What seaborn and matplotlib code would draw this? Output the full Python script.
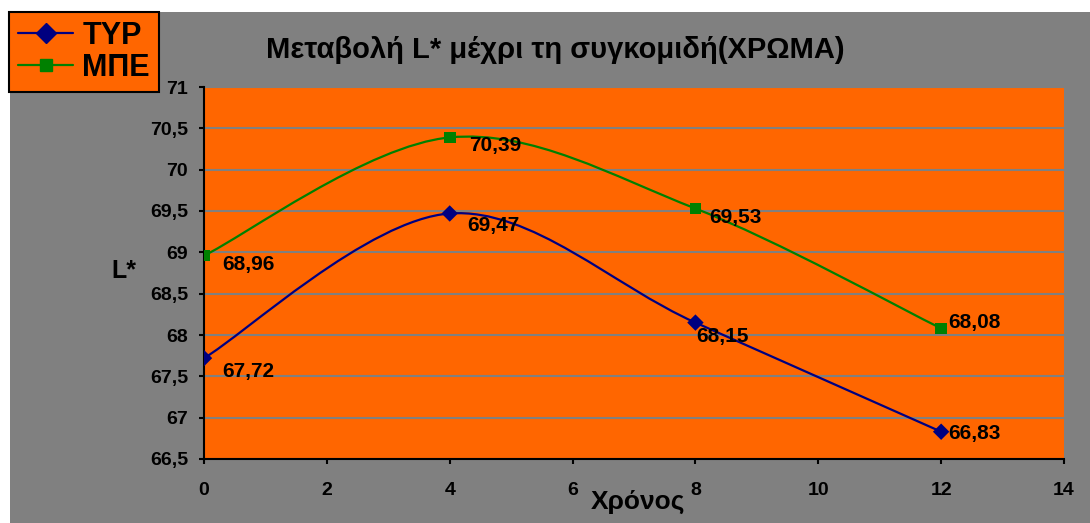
import numpy as np
import pandas as pd
import seaborn as sns
import matplotlib
matplotlib.use("Agg")
import matplotlib.pyplot as plt
from matplotlib.path import Path
from matplotlib.patches import PathPatch, Rectangle
from matplotlib.lines import Line2D

# Data
months = [0, 4, 8, 12]
typ_values = [67.72, 69.47, 68.15, 66.83]
mpe_values = [68.96, 70.39, 69.53, 68.08]
series_names = ["ΤΥΡ", "ΜΠΕ"]
x_ticks = [0, 2, 4, 6, 8, 10, 12, 14]
y_ticks = [66.5, 67, 67.5, 68, 68.5, 69, 69.5, 70, 70.5, 71]
title = "Μεταβολή L* μέχρι τη συγκομιδή(ΧΡΩΜΑ)"
x_label = "Χρόνος"
y_label = "L*"

# Styling
ORANGE = "#FF6600"
GRAY = "#808080"
NAVY = "#000080"
GREEN = "#008000"
FONT = ["Liberation Sans", "DejaVu Sans"]

sns.set_theme(style="white")
plt.rcParams["font.family"] = FONT
plt.rcParams["font.weight"] = "bold"
plt.rcParams["text.color"] = "black"

W, H = 1090, 523
fig = plt.figure(figsize=(W / 100, H / 100), dpi=100, facecolor="white")
fig.patches.append(Rectangle((10 / W, 0), 1 - 10 / W, 1 - 12 / H,
                             transform=fig.transFigure, facecolor=GRAY,
                             edgecolor="none", zorder=-10))

ax = fig.add_axes([204 / W, 1 - 459 / H, (1064 - 204) / W, (459 - 87) / H])
ax.set_facecolor(ORANGE)


def smooth_path(xs, ys):
    """Cubic Bezier path through the points (Catmull-Rom style tangents)."""
    pts = np.column_stack([xs, ys]).astype(float)
    ext = np.vstack([pts[0], pts, pts[-1]])
    verts = [tuple(pts[0])]
    codes = [Path.MOVETO]
    for i in range(len(pts) - 1):
        p0, p1, p2, p3 = ext[i], ext[i + 1], ext[i + 2], ext[i + 3]
        c1 = p1 + (p2 - p0) / 6.0
        c2 = p2 - (p3 - p1) / 6.0
        verts += [tuple(c1), tuple(c2), tuple(p2)]
        codes += [Path.CURVE4] * 3
    return Path(verts, codes)


df = pd.DataFrame({
    "month": months * 2,
    "L": typ_values + mpe_values,
    "series": [series_names[0]] * len(months) + [series_names[1]] * len(months),
})

colors = {series_names[0]: NAVY, series_names[1]: GREEN}
markers = {series_names[0]: "D", series_names[1]: "s"}

for name, vals in zip(series_names, [typ_values, mpe_values]):
    ax.add_patch(PathPatch(smooth_path(months, vals), facecolor="none",
                           edgecolor=colors[name], lw=1.6, zorder=3))

sns.scatterplot(data=df, x="month", y="L", hue="series", style="series",
                palette=colors, markers=markers, s=70, edgecolor="none",
                legend=False, ax=ax, zorder=4)

# Value labels (offsets in pixels from the marker)
typ_offsets = [(18, -13), (18, -12), (1, -14), (7, -2)]
mpe_offsets = [(18, -9), (19, -8), (14, -9), (7, 6)]
for vals, offs in [(typ_values, typ_offsets), (mpe_values, mpe_offsets)]:
    for xv, yv, (dx, dy) in zip(months, vals, offs):
        ax.annotate(f"{yv:.2f}".replace(".", ","), (xv, yv),
                    xytext=(dx, dy), textcoords="offset pixels",
                    ha="left", va="center", fontsize=15, fontweight="bold",
                    color="black", zorder=5)

ax.set_xlim(0, 14)
ax.set_ylim(66.5, 71)
ax.set_xticks(x_ticks)
ax.set_yticks(y_ticks)
ax.set_yticklabels([f"{v:g}".replace(".", ",") for v in y_ticks])
ax.set_xticklabels([str(v) for v in x_ticks])
ax.grid(axis="y", color=GRAY, lw=1.5)
ax.set_axisbelow(True)
for side in ["top", "right"]:
    ax.spines[side].set_visible(False)
for side in ["left", "bottom"]:
    ax.spines[side].set_color("black")
    ax.spines[side].set_linewidth(1.5)
ax.tick_params(axis="both", which="major", direction="out", length=3.6,
               width=1.5, color="black", labelsize=14, labelcolor="black",
               left=True, bottom=True)
ax.tick_params(axis="x", pad=13)
ax.tick_params(axis="y", pad=8)
for lbl in ax.get_xticklabels() + ax.get_yticklabels():
    lbl.set_fontweight("bold")
ax.set_xlabel("")
ax.set_ylabel("")

fig.text(638 / W, 1 - 502 / H, x_label, ha="center", va="center",
         fontsize=19, fontweight="bold", color="black")
fig.text(124 / W, 1 - 271 / H, y_label, ha="center", va="center",
         fontsize=18, fontweight="bold", color="black")
fig.text(555 / W, 1 - 50 / H, title, ha="center", va="center",
         fontsize=21, fontweight="bold", color="black")

handles = [Line2D([], [], color=NAVY, marker="D", markersize=10, lw=1.6),
           Line2D([], [], color=GREEN, marker="s", markersize=9, lw=1.6)]
leg = fig.legend(handles, series_names, loc="upper left",
                 bbox_to_anchor=(9 / W, 1 - 12 / H), borderaxespad=0,
                 frameon=True, fancybox=False, facecolor=ORANGE,
                 edgecolor="black", framealpha=1, labelcolor="black",
                 prop={"family": FONT, "weight": "bold", "size": 22},
                 handlelength=1.8, handletextpad=0.3, labelspacing=0.05,
                 borderpad=0.3)
leg.get_frame().set_linewidth(1.5)

fig.savefig("out.png", dpi=100, facecolor="white")
